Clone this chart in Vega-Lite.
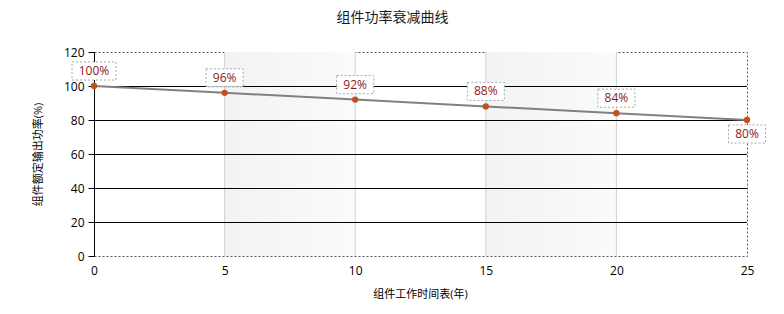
{
  "$schema": "https://vega.github.io/schema/vega-lite/v6.json",
  "width": 653,
  "height": 204,
  "autosize": {"type": "none"},
  "padding": {"left": 94, "top": 52, "right": 37, "bottom": 58},
  "title": {
    "text": "组件功率衰减曲线",
    "fontSize": 14,
    "fontWeight": "normal",
    "color": "#1a1a1a",
    "anchor": "middle",
    "dx": -28,
    "offset": 21
  },
  "config": {
    "font": "Open Sans, Noto Sans CJK SC, sans-serif",
    "view": {"stroke": "#555555", "strokeDash": [2, 2], "strokeWidth": 1},
    "axisX": {
      "tickCount": 5,
      "grid": false,
      "domain": false,
      "ticks": false,
      "labelFlush": false,
      "labelPadding": 9,
      "labelFontSize": 12,
      "labelColor": "#000000",
      "titleFontSize": 11,
      "titleFontWeight": "normal",
      "titleColor": "#000000",
      "titleX": 326,
      "titleY": 38,
      "titleBaseline": "middle",
      "titleAlign": "center"
    },
    "axisY": {
      "grid": false,
      "domainColor": "#000000",
      "tickColor": "#000000",
      "tickSize": 6,
      "labelPadding": 4,
      "labelFontSize": 12,
      "labelColor": "#000000",
      "titleFontSize": 11,
      "titleFontWeight": "normal",
      "titleColor": "#000000",
      "titleAngle": -90,
      "titleX": -56,
      "titleY": 102,
      "titleBaseline": "middle",
      "titleAlign": "center"
    }
  },
  "datasets": {
    "curve": [
      {"year": 0, "power": 100, "label": "100%"},
      {"year": 5, "power": 96, "label": "96%"},
      {"year": 10, "power": 92, "label": "92%"},
      {"year": 15, "power": 88, "label": "88%"},
      {"year": 20, "power": 84, "label": "84%"},
      {"year": 25, "power": 80, "label": "80%"}
    ],
    "bands": [
      {"year": 5, "year_end": 10},
      {"year": 15, "year_end": 20}
    ],
    "vgrid": [{"year": 5}, {"year": 10}, {"year": 15}, {"year": 20}],
    "hgrid": [{"power": 20}, {"power": 40}, {"power": 60}, {"power": 80}, {"power": 100}]
  },
  "layer": [
    {
      "data": {"name": "bands"},
      "mark": {
        "type": "rect",
        "fill": {
          "gradient": "linear",
          "x1": 0, "x2": 1, "y1": 0, "y2": 0,
          "stops": [
            {"offset": 0, "color": "#f1f3f4"},
            {"offset": 1, "color": "#fafbfb"}
          ]
        }
      },
      "encoding": {
        "x": {"field": "year", "type": "quantitative", "title": "组件工作时间表(年)", "scale": {"domain": [0, 25], "nice": false}},
        "x2": {"field": "year_end"}
      }
    },
    {
      "data": {"name": "vgrid"},
      "mark": {"type": "rule", "color": "#d0d0d0", "strokeWidth": 1},
      "encoding": {
        "x": {"field": "year", "type": "quantitative", "title": "组件工作时间表(年)", "scale": {"domain": [0, 25], "nice": false}}
      }
    },
    {
      "data": {"name": "hgrid"},
      "mark": {"type": "rule", "color": "#000000", "strokeWidth": 1, "yOffset": 0.5},
      "encoding": {
        "y": {"field": "power", "type": "quantitative", "title": "组件额定输出功率(%)", "scale": {"domain": [0, 120], "nice": false}}
      }
    },
    {
      "data": {"name": "curve"},
      "mark": {"type": "line", "color": "#808080", "strokeWidth": 2},
      "encoding": {
        "x": {"field": "year", "type": "quantitative", "title": "组件工作时间表(年)", "scale": {"domain": [0, 25], "nice": false}},
        "y": {"field": "power", "type": "quantitative", "title": "组件额定输出功率(%)", "scale": {"domain": [0, 120], "nice": false}}
      }
    },
    {
      "data": {"name": "curve"},
      "mark": {"type": "point", "filled": true, "color": "#c4501c", "opacity": 1, "size": 40},
      "encoding": {
        "x": {"field": "year", "type": "quantitative", "title": "组件工作时间表(年)"},
        "y": {"field": "power", "type": "quantitative", "title": "组件额定输出功率(%)"}
      }
    },
    {
      "data": {"name": "curve"},
      "transform": [{"filter": "datum.year < 25"}],
      "mark": {"type": "point", "filled": false, "fill": "#ffffff", "fillOpacity": 1, "stroke": "#a8a8a8", "strokeWidth": 1, "strokeDash": [2, 2], "opacity": 1, "yOffset": -15},
      "encoding": {
        "x": {"field": "year", "type": "quantitative", "title": "组件工作时间表(年)"},
        "y": {"field": "power", "type": "quantitative", "title": "组件额定输出功率(%)"},
        "shape": {"condition": {"test": "datum.power == 100", "value": "M-1,-0.41H1V0.41H-1Z"}, "value": "M-1,-0.49H1V0.49H-1Z"},
        "size": {"condition": {"test": "datum.power == 100", "value": 1936}, "value": 1369}
      }
    },
    {
      "data": {"name": "curve"},
      "transform": [{"filter": "datum.year == 25"}],
      "mark": {"type": "point", "filled": false, "fill": "#ffffff", "fillOpacity": 1, "stroke": "#a8a8a8", "strokeWidth": 1, "strokeDash": [2, 2], "opacity": 1, "yOffset": 14, "shape": "M-1,-0.49H1V0.49H-1Z", "size": 1369},
      "encoding": {
        "x": {"field": "year", "type": "quantitative", "title": "组件工作时间表(年)"},
        "y": {"field": "power", "type": "quantitative", "title": "组件额定输出功率(%)"}
      }
    },
    {
      "data": {"name": "curve"},
      "transform": [{"filter": "datum.year < 25"}],
      "mark": {"type": "text", "color": "#8b1a1a", "fontSize": 12, "baseline": "middle", "align": "center", "yOffset": -15},
      "encoding": {
        "x": {"field": "year", "type": "quantitative", "title": "组件工作时间表(年)"},
        "y": {"field": "power", "type": "quantitative", "title": "组件额定输出功率(%)"},
        "text": {"field": "label"}
      }
    },
    {
      "data": {"name": "curve"},
      "transform": [{"filter": "datum.year == 25"}],
      "mark": {"type": "text", "color": "#8b1a1a", "fontSize": 12, "baseline": "middle", "align": "center", "yOffset": 14},
      "encoding": {
        "x": {"field": "year", "type": "quantitative", "title": "组件工作时间表(年)"},
        "y": {"field": "power", "type": "quantitative", "title": "组件额定输出功率(%)"},
        "text": {"field": "label"}
      }
    }
  ]
}
